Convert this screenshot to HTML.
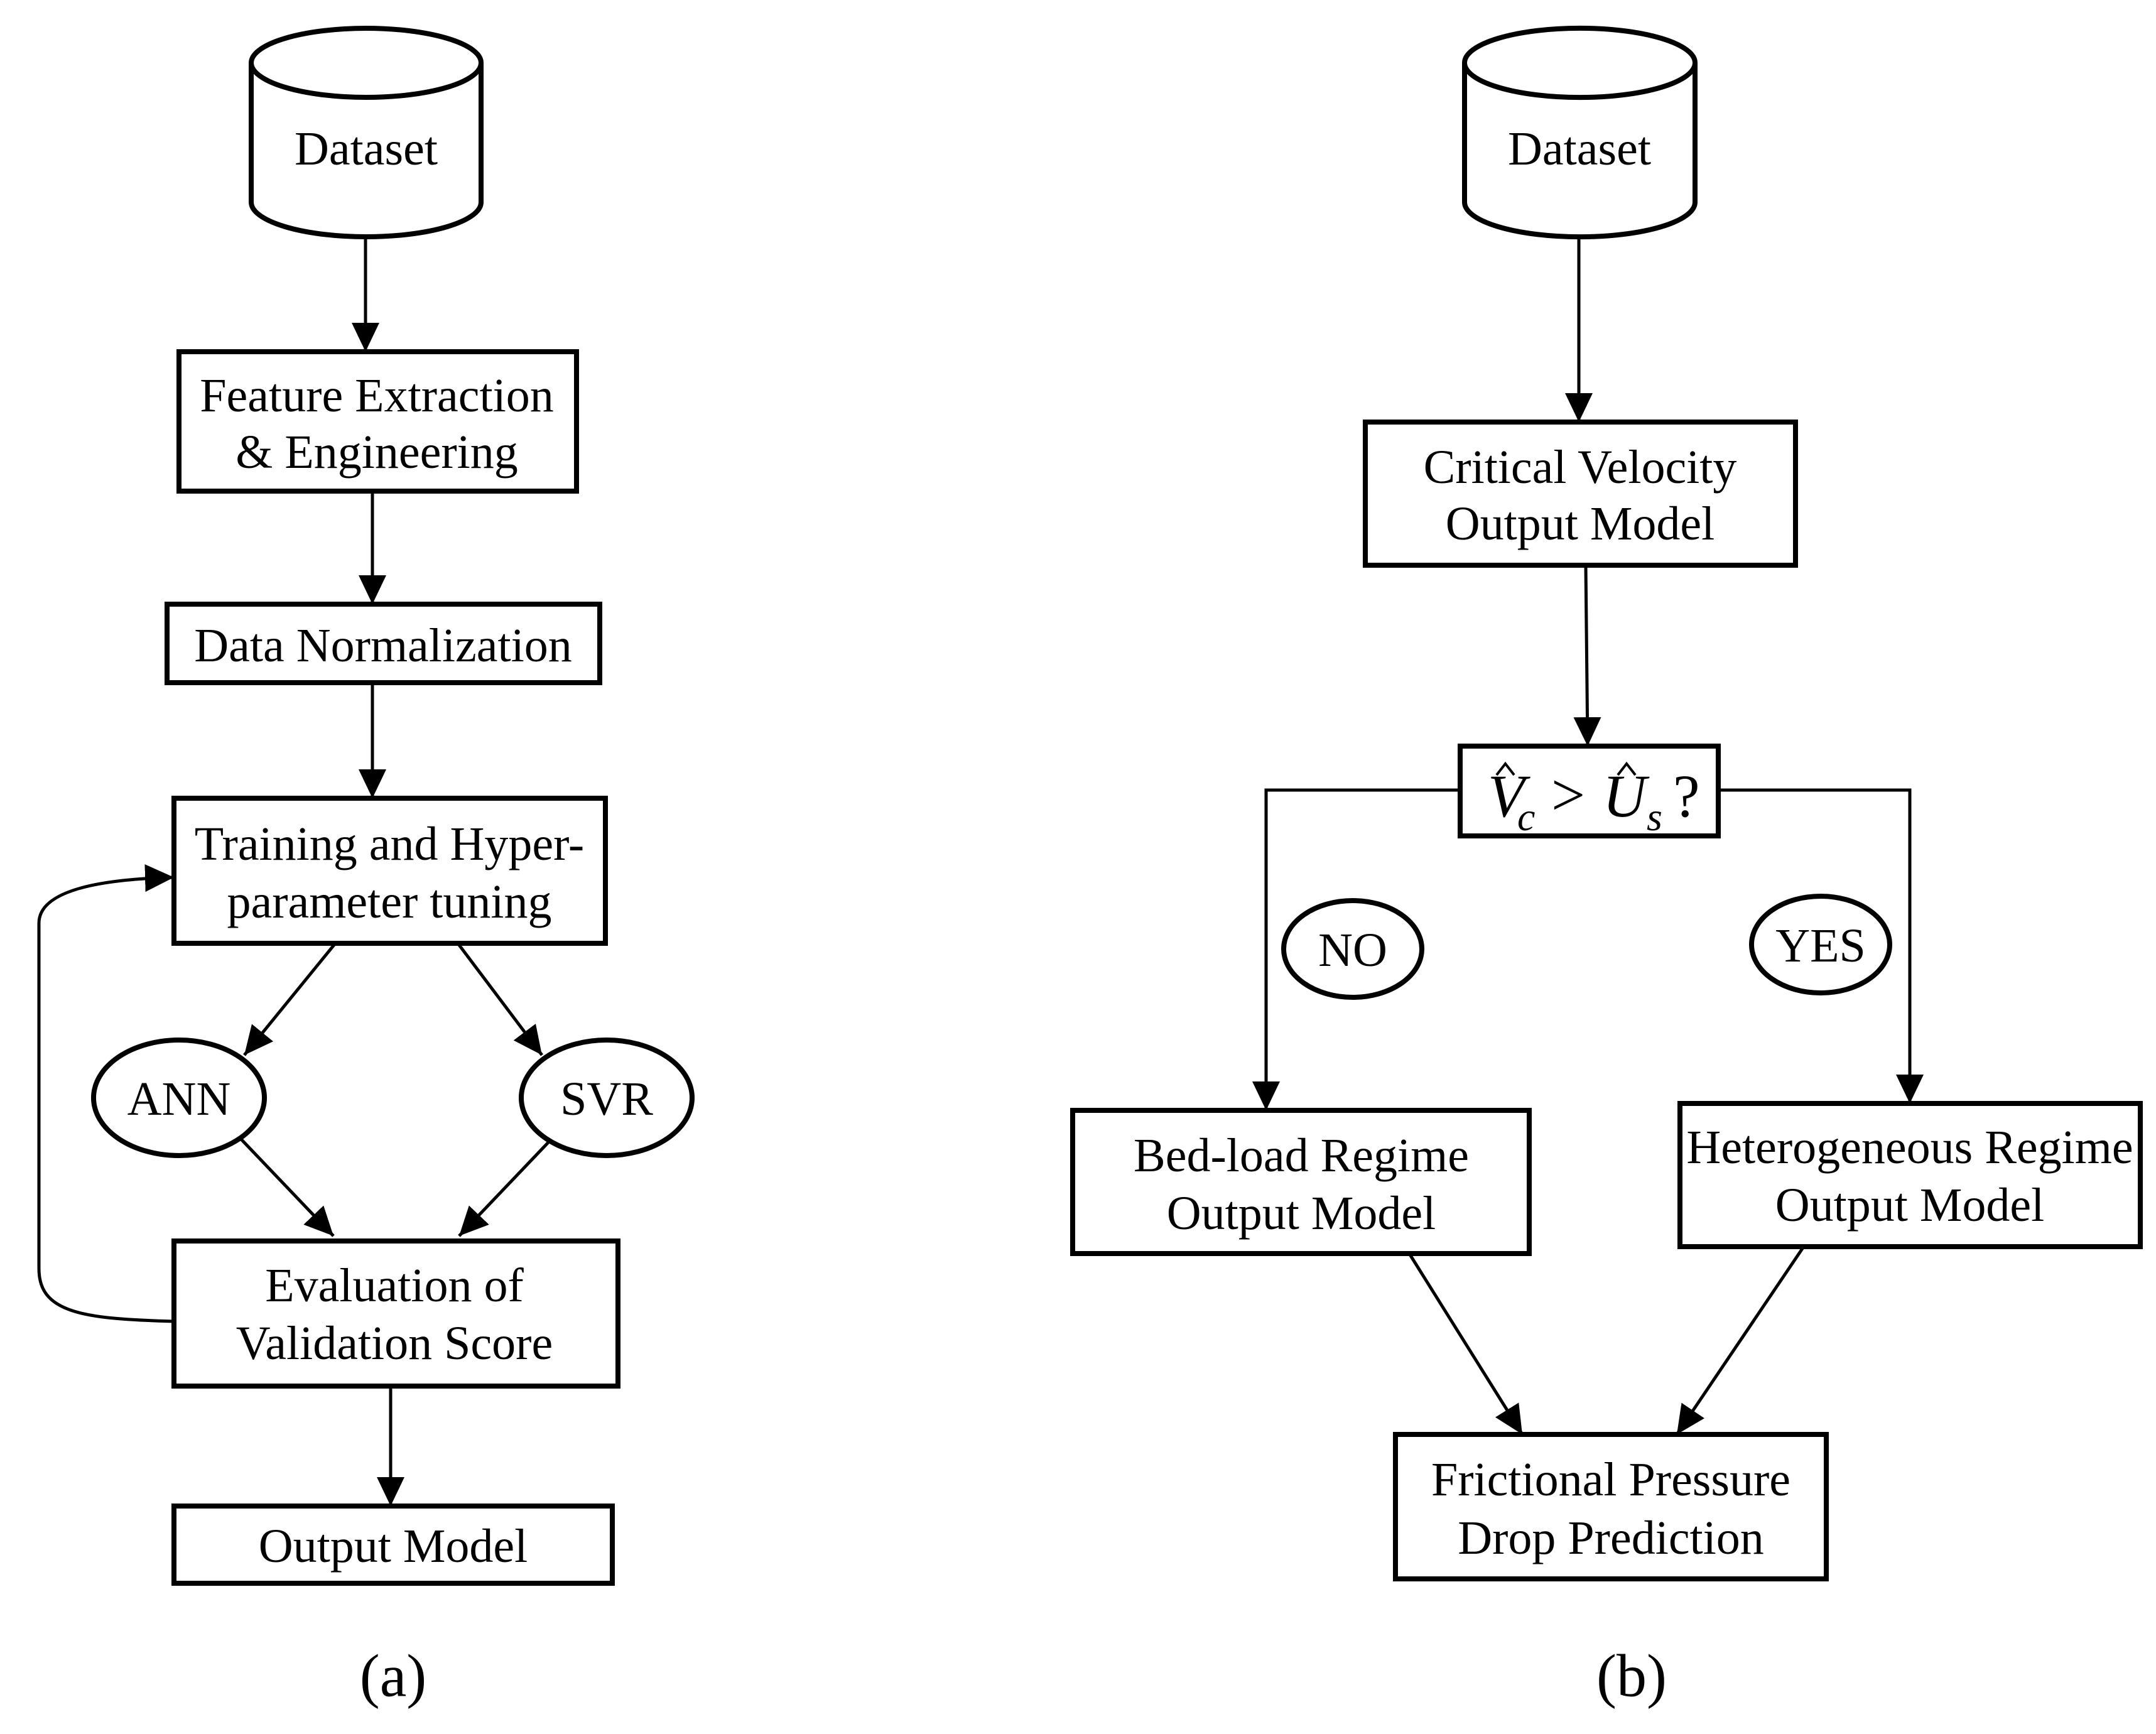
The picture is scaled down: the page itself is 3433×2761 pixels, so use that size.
<!DOCTYPE html>
<html><head><meta charset="utf-8"><style>html,body{margin:0;padding:0;background:#fff}svg{display:block}</style></head>
<body>
<svg width="3433" height="2761" viewBox="0 0 3433 2761" xmlns="http://www.w3.org/2000/svg">
<defs>
<marker id="a" markerUnits="userSpaceOnUse" markerWidth="50" markerHeight="50" refX="46" refY="22" orient="auto">
<path d="M0,0 L46,22 L0,44 Z" fill="#000"/>
</marker>
</defs>
<g fill="none" stroke="#000" stroke-width="8">
<path d="M400,100 A183,55 0 0 1 766,100 L766,322 A183,55 0 0 1 400,322 Z" fill="#fff"/>
<path d="M400,100 A183,55 0 0 0 766,100"/>
<path d="M2332,100 A183,55 0 0 1 2699,100 L2699,322 A183,55 0 0 1 2332,322 Z" fill="#fff"/>
<path d="M2332,100 A183,55 0 0 0 2699,100"/>

<rect x="285" y="560" width="633" height="222"/>
<rect x="266" y="962" width="689" height="125"/>
<rect x="277" y="1271" width="687" height="231"/>
<ellipse cx="285" cy="1748" rx="136" ry="92"/>
<ellipse cx="966" cy="1748" rx="136" ry="92"/>
<rect x="277" y="1976" width="707" height="231"/>
<rect x="277" y="2398" width="698" height="123"/>

<rect x="2174" y="672" width="685" height="228"/>
<rect x="2325" y="1188" width="411" height="143"/>
<ellipse cx="2154" cy="1511" rx="110" ry="77"/>
<ellipse cx="2899" cy="1504" rx="110" ry="77"/>
<rect x="1708" y="1768" width="727" height="228"/>
<rect x="2675" y="1757" width="733" height="228"/>
<rect x="2222" y="2284" width="686" height="230"/>
</g>
<g fill="none" stroke="#000" stroke-width="5">
<path d="M582,378 L582,560" marker-end="url(#a)"/>
<path d="M593,782 L593,962" marker-end="url(#a)"/>
<path d="M593,1087 L593,1271" marker-end="url(#a)"/>
<path d="M534,1502 L389,1680" marker-end="url(#a)"/>
<path d="M729,1502 L863,1680" marker-end="url(#a)"/>
<path d="M384,1814 L531,1968" marker-end="url(#a)"/>
<path d="M874,1818 L731,1968" marker-end="url(#a)"/>
<path d="M622,2207 L622,2398" marker-end="url(#a)"/>
<path d="M277,2104 C130,2100 62,2090 62,2020 L62,1470 C62,1420 150,1400 277,1397" marker-end="url(#a)"/>

<path d="M2514,378 L2514,672" marker-end="url(#a)"/>
<path d="M2525,900 L2528,1188" marker-end="url(#a)"/>
<path d="M2325,1258 L2016,1258 L2016,1768" marker-end="url(#a)"/>
<path d="M2736,1258 L3041,1258 L3041,1757" marker-end="url(#a)"/>
<path d="M2244,1996 L2424,2284" marker-end="url(#a)"/>
<path d="M2872,1985 L2670,2284" marker-end="url(#a)"/>
<path d="M2383,1234 L2397,1216 L2411,1234 M2576,1234 L2590,1216 L2604,1234" stroke-width="4"/>
</g>
<g font-family="'Liberation Serif', serif" font-size="76" text-anchor="middle" dominant-baseline="central" fill="#000">
<text x="583" y="237">Dataset</text>
<text x="2515" y="237">Dataset</text>
<text x="600" y="630">Feature Extraction</text>
<text x="600" y="720">&amp; Engineering</text>
<text x="610" y="1028">Data Normalization</text>
<text x="620" y="1344">Training and Hyper-</text>
<text x="620" y="1436">parameter tuning</text>
<text x="285" y="1750">ANN</text>
<text x="966" y="1750">SVR</text>
<text x="628" y="2047">Evaluation of</text>
<text x="628" y="2139">Validation Score</text>
<text x="626" y="2462">Output Model</text>
<text x="626" y="2668" font-size="96">(a)</text>

<text x="2516" y="744">Critical Velocity</text>
<text x="2516" y="834">Output Model</text>
<text x="2154" y="1513">NO</text>
<text x="2899" y="1506">YES</text>
<text x="2072" y="1840">Bed-load Regime</text>
<text x="2072" y="1932">Output Model</text>
<text x="3041" y="1827">Heterogeneous Regime</text>
<text x="3041" y="1919">Output Model</text>
<text x="2565" y="2356">Frictional Pressure</text>
<text x="2565" y="2449">Drop Prediction</text>
<text x="2598" y="2668" font-size="96">(b)</text>
</g>
<g font-family="'Liberation Serif', serif" font-size="96" fill="#000" font-style="italic">
<text x="2369" y="1300">V</text>
<text x="2416" y="1322" font-size="64">c</text>
<text x="2470" y="1298" font-style="normal">&gt;</text>
<text x="2552" y="1300">U</text>
<text x="2622" y="1322" font-size="64">s</text>
<text x="2664" y="1300" font-style="normal">?</text>
</g>
</svg>
</body></html>
